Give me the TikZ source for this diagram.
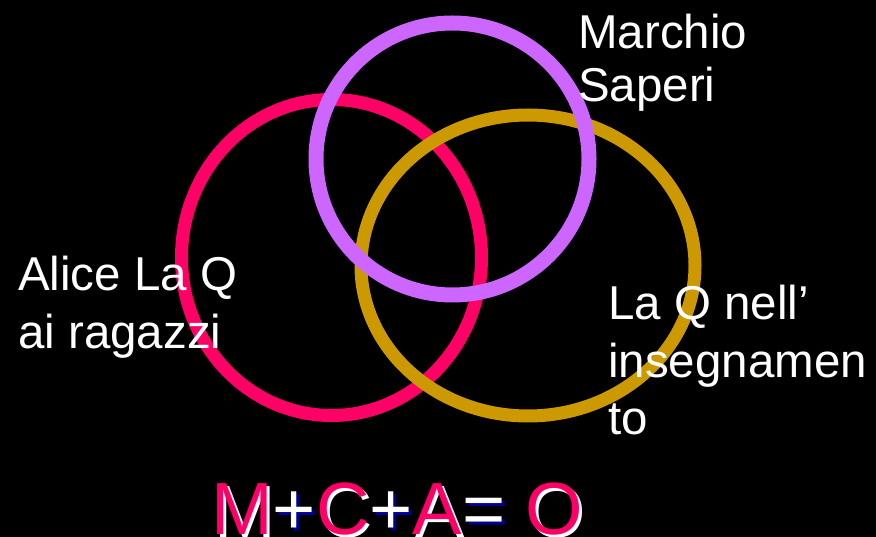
\documentclass[tikz,border=0pt]{standalone}
\usepackage{fontspec}
\setmainfont{Liberation Sans}
\definecolor{cpink}{HTML}{FF0066}
\definecolor{cpurple}{HTML}{CC66FF}
\definecolor{cgold}{HTML}{CC9900}
\definecolor{cnavy}{HTML}{000099}
\tikzset{
  ring/.style={line width=13pt},
  label/.style={text=white, inner sep=0pt, anchor=base west, font=\fontsize{47.5}{54}\selectfont},
  formula/.style={inner sep=0pt, anchor=base west, font=\fontsize{74}{80}\selectfont}
}
\begin{document}
\begin{tikzpicture}[x=1pt,y=-1pt]
\fill[black] (0,0) rectangle (876,537);
\useasboundingbox (0,0) rectangle (876,537);
% rings
\draw[ring, cpink] (331.5,257.5) ellipse [x radius=150, y radius=158];
\draw[ring, cgold] (528,265.5) ellipse [x radius=167, y radius=150.5];
\draw[ring, cpurple, line width=15pt] (452.5,159) ellipse [x radius=136.5, y radius=136];
% labels
\node[label] (marchio) at (578,48.5) {\vtop{\baselineskip=53.5pt\hbox{Marchio}\hbox{Saperi}}};
\node[label] (alice) at (18,290.5) {\vtop{\baselineskip=58pt\hbox{Alice La Q}\hbox{ai ragazzi}}};
\node[label] (laq) at (608,320) {\vtop{\baselineskip=57.5pt\hbox{La Q nell’}\hbox{insegnamen}\hbox{to}}};
% formula
\node[formula] (formshadow) at (214,537) {{\color{white}M}{\color{cnavy}+}{\color{white}C}{\color{cnavy}+}{\color{white}A}{\color{cnavy}=} {\color{white}O}};
\node[formula] (form) at (211,534) {{\color{cpink}M}{\color{white}+}{\color{cpink}C}{\color{white}+}{\color{cpink}A}{\color{white}=} {\color{cpink}O}};
\end{tikzpicture}
\end{document}
